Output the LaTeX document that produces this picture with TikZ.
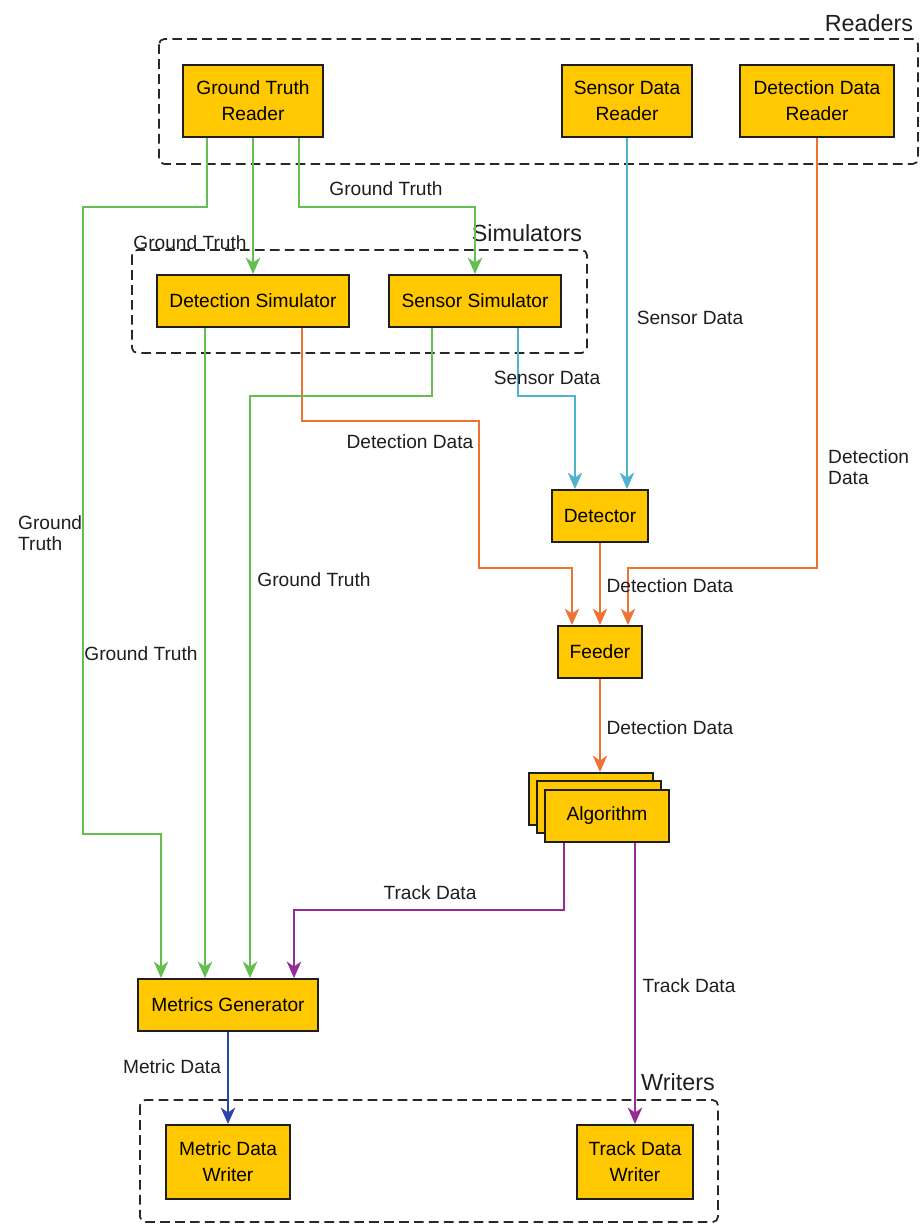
\documentclass[tikz,border=0pt]{standalone}
\usepackage{fontspec}
\setmainfont{Liberation Sans}
\usetikzlibrary{arrows.meta}
\definecolor{boxfill}{RGB}{255,200,0}
\definecolor{boxline}{RGB}{30,30,30}
\definecolor{grpline}{RGB}{40,40,40}
\definecolor{txt}{RGB}{30,30,30}
\definecolor{vert}{RGB}{100,190,80}
\definecolor{cyan2}{RGB}{80,180,205}
\definecolor{orange2}{RGB}{238,115,50}
\definecolor{violet2}{RGB}{150,45,150}
\definecolor{bleu2}{RGB}{40,70,170}
\tikzset{
	bloc/.style={draw=boxline, line width=1.1pt, fill=boxfill, align=center, inner sep=0pt, text=black, font=\fontsize{10.9}{14.7}\selectfont},
	groupe/.style={draw=grpline, dash pattern=on 5.5pt off 3pt, line width=1pt, rounded corners=3pt},
	lien/.style={line width=0.9pt, -{Stealth[length=3.3mm,width=2.9mm,inset=1mm]}},
	etiq/.style={font=\fontsize{10.9}{12}\selectfont, align=left, text=txt},
	titre/.style={font=\fontsize{13.3}{15}\selectfont, text=txt}
}
\begin{document}
\begin{tikzpicture}[x=0.02cm,y=-0.02cm]
	%Cadre
	\useasboundingbox (0,0) rectangle (922,1224) ;
	%Groupes
	\path [titre]	(869,23)	node (treaders)	{Readers}	;
	\path [titre]	(527,233)	node (tsimul)	{Simulators}	;
	\path [titre]	(678,1082)	node (twriters)	{Writers}	;
	\path [etiq]	(190,243)	node (lgt2)	{Ground Truth}	;
	\draw [groupe]	(159,39)	rectangle (918,164)	;
	\draw [groupe]	(132,250)	rectangle (587,353)	;
	\draw [groupe]	(140,1100)	rectangle (718,1222)	;
	%Blocs
	\path	(253,101)	node [bloc, minimum width=2.8cm, minimum height=1.44cm] (gtr)	{Ground Truth\\Reader}	;
	\path	(627,101)	node [bloc, minimum width=2.6cm, minimum height=1.44cm] (sdr)	{Sensor Data\\Reader}	;
	\path	(817,101)	node [bloc, minimum width=3.08cm, minimum height=1.44cm] (ddr)	{Detection Data\\Reader}	;
	\path	(253,301)	node [bloc, minimum width=3.84cm, minimum height=1.04cm] (dsim)	{Detection Simulator}	;
	\path	(475,301)	node [bloc, minimum width=3.44cm, minimum height=1.04cm] (ssim)	{Sensor Simulator}	;
	\path	(600,516)	node [bloc, minimum width=1.92cm, minimum height=1.04cm] (det)	{Detector}	;
	\path	(600,652)	node [bloc, minimum width=1.68cm, minimum height=1.04cm] (feed)	{Feeder}	;
	\path	(591,799)	node [bloc, minimum width=2.48cm, minimum height=1.04cm] (alg1)	{}	;
	\path	(599,807)	node [bloc, minimum width=2.48cm, minimum height=1.04cm] (alg2)	{}	;
	\path	(607,816)	node [bloc, minimum width=2.48cm, minimum height=1.04cm] (alg)	{Algorithm}	;
	\path	(228,1005)	node [bloc, minimum width=3.6cm, minimum height=1.04cm] (mg)	{Metrics Generator}	;
	\path	(228,1162)	node [bloc, minimum width=2.48cm, minimum height=1.48cm] (mdw)	{Metric Data\\Writer}	;
	\path	(635,1162)	node [bloc, minimum width=2.32cm, minimum height=1.48cm] (tdw)	{Track Data\\Writer}	;
	%Liens
	\draw [lien, vert]		(207,0 |- gtr.south) |- (83,207) |- (161,834) -- (161,0 |- mg.north) ;
	\draw [lien, vert]		(gtr.south) -- (dsim.north) ;
	\draw [lien, vert]		(299,0 |- gtr.south) |- (475,207) -- (ssim.north) ;
	\draw [lien, cyan2]		(sdr.south) -- (sdr.south |- det.north) ;
	\draw [lien, orange2]	(ddr.south) |- (628,568) -- (628,0 |- feed.north) ;
	\draw [lien, cyan2]		(518,0 |- ssim.south) |- (575,396) -- (575,0 |- det.north) ;
	\draw [lien, orange2]	(302,0 |- dsim.south) |- (479,421) |- (572,568) -- (572,0 |- feed.north) ;
	\draw [lien, vert]		(205,0 |- dsim.south) -- (205,0 |- mg.north) ;
	\draw [lien, vert]		(432,0 |- ssim.south) |- (250,396) -- (250,0 |- mg.north) ;
	\draw [lien, orange2]	(det.south) -- (feed.north) ;
	\draw [lien, orange2]	(feed.south) -- (600,0 |- alg1.north) ;
	\draw [lien, violet2]	(564,0 |- alg.south) |- (294,910) -- (294,0 |- mg.north) ;
	\draw [lien, violet2]	(635,0 |- alg.south) -- (tdw.north) ;
	\draw [lien, bleu2]		(mg.south) -- (mdw.north) ;
	%Etiquettes
	\path [etiq]	(386,189)	node (lgt1)	{Ground Truth}	;
	\path [etiq]	(690,318)	node (lsd1)	{Sensor Data}	;
	\path [etiq]	(547,378)	node (lsd2)	{Sensor Data}	;
	\path [etiq]	(410,442)	node (ldd1)	{Detection Data}	;
	\path [etiq]	(822,467)	node [anchor=west] (ldd2)	{Detection\\Data}	;
	\path [etiq]	(12,533)	node [anchor=west] (lgt3)	{Ground\\Truth}	;
	\path [etiq]	(314,580)	node (lgt4)	{Ground Truth}	;
	\path [etiq]	(670,586)	node (ldd3)	{Detection Data}	;
	\path [etiq]	(141,654)	node (lgt5)	{Ground Truth}	;
	\path [etiq]	(670,728)	node (ldd4)	{Detection Data}	;
	\path [etiq]	(430,893)	node (ltd1)	{Track Data}	;
	\path [etiq]	(689,986)	node (ltd2)	{Track Data}	;
	\path [etiq]	(172,1067)	node (lmd)	{Metric Data}	;
\end{tikzpicture}
\end{document}
